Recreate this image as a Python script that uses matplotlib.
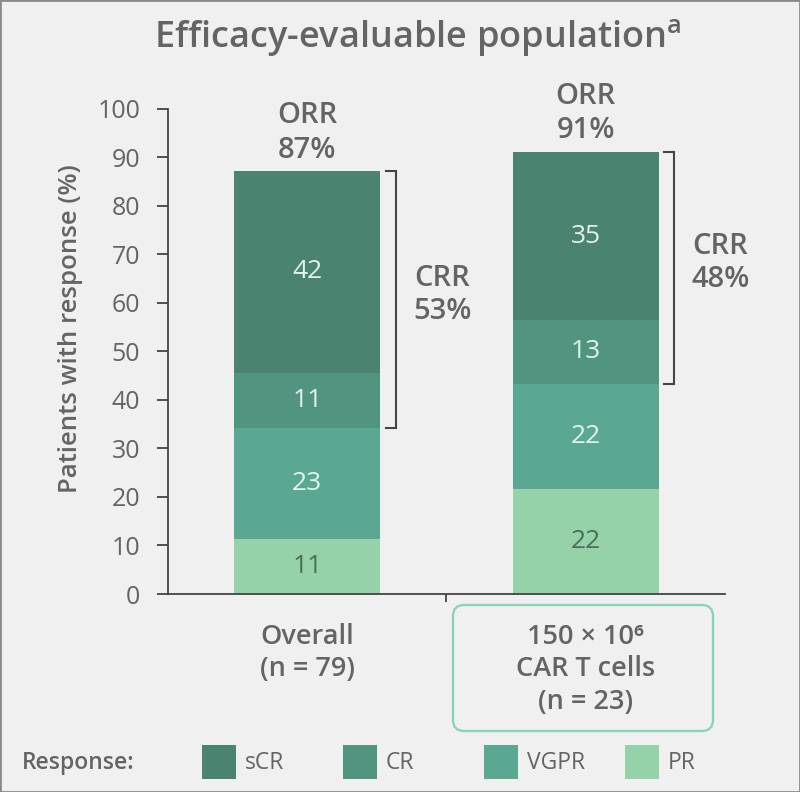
import matplotlib.pyplot as plt
from matplotlib.patches import FancyBboxPatch, Rectangle
import numpy as np

plt.rcParams['font.family'] = ['Open Sans', 'DejaVu Sans']

# Data
groups = ["Overall\n(n = 79)", "150 × 10⁶\nCAR T cells\n(n = 23)"]
pr = [11.4, 21.7]
vgpr = [22.8, 21.7]
cr = [11.4, 13.0]
scr = [41.6, 34.8]
pr_lbl = [11, 22]
vgpr_lbl = [23, 22]
cr_lbl = [11, 13]
scr_lbl = [42, 35]
orr = [87, 91]
crr = [53, 48]
legend_names = ["sCR", "CR", "VGPR", "PR"]

colors = {"sCR": "#4a8370", "CR": "#519581", "VGPR": "#5aa891", "PR": "#95d1a9"}
txt_gray = "#646464"
bg = "#f0f0f0"

fig = plt.figure(figsize=(8, 7.92), dpi=100, facecolor=bg)
ax = fig.add_axes([0.21, 0.25, 0.696, 0.6124])
ax.set_facecolor(bg)

x = np.arange(len(groups))
width = 0.525
bottom = np.zeros(len(groups))
series = [("PR", pr, pr_lbl), ("VGPR", vgpr, vgpr_lbl), ("CR", cr, cr_lbl), ("sCR", scr, scr_lbl)]
for name, vals, lbls in series:
    vals = np.array(vals)
    ax.bar(x, vals, width, bottom=bottom, color=colors[name], edgecolor='none')
    tc = "#4c6d57" if name == "PR" else "#e2f5ec"
    for xi, b, v, l in zip(x, bottom, vals, lbls):
        ax.text(xi, b + v / 2, str(l), ha='center', va='center', fontsize=19, color=tc)
    bottom += vals

# ORR labels above bars
for xi, tot, o in zip(x, bottom, orr):
    ax.text(xi, tot + 1.3, f"ORR\n{o}%", ha='center', va='bottom', fontsize=21,
            color=txt_gray, fontweight='semibold', linespacing=1.25, clip_on=False)

# CRR brackets: from top of VGPR to top of bar
base = np.array(pr) + np.array(vgpr)
for xi, lo, hi, c in zip(x, base, bottom, crr):
    bx0 = xi + width / 2 + 0.02
    bx1 = bx0 + 0.035
    ax.plot([bx0, bx1, bx1, bx0], [hi, hi, lo, lo], color="#444444", lw=1.5,
            clip_on=False, solid_joinstyle='miter')
    ax.text(xi + 0.485, (lo + hi) / 2 + 1.0, f"CRR\n{c}%", ha='center', va='center',
            fontsize=21, color=txt_gray, fontweight='semibold', linespacing=1.2)

ax.set_xlim(-0.5, 1.5)
ax.set_ylim(0, 100)
ax.set_yticks(range(0, 101, 10))
ax.set_xticks([0.5])
ax.set_xticklabels([])
ax.tick_params(axis='y', length=8, width=1.3, color="#444444", labelsize=18,
               labelcolor=txt_gray, pad=12)
ax.tick_params(axis='x', length=6, width=1.3, color="#444444")
for s in ['top', 'right']:
    ax.spines[s].set_visible(False)
for s in ['left', 'bottom']:
    ax.spines[s].set_color("#444444")
    ax.spines[s].set_linewidth(1.3)

ax.set_ylabel("Patients with response (%)", fontsize=18.5, color=txt_gray,
              fontweight='semibold')
ax.yaxis.set_label_coords(-0.153, 0.548)

# group labels below axis
for xi, g in zip(x, groups):
    ax.text(xi, -5.9, g, ha='center', va='top', fontsize=19.5, color=txt_gray,
            fontweight='semibold', linespacing=1.22, clip_on=False)

# rounded box around the second group label
box = FancyBboxPatch((453 / 800, 1 - 731 / 792), 260 / 800, 126 / 792,
                     boxstyle="round,pad=0,rounding_size=0.014",
                     transform=fig.transFigure, facecolor='none',
                     edgecolor="#86d3b6", lw=1.6)
fig.patches.append(box)

fig.text(0.522, 0.953, "Efficacy-evaluable population$^{\\mathregular{a}}$", ha='center',
         va='center', fontsize=26, color=txt_gray, fontweight='semibold')

# legend row
fig.text(22 / 800, 1 - 763 / 792, "Response:", ha='left', va='center', fontsize=16.5,
         color=txt_gray, fontweight='semibold')
leg_x = [202, 343, 484, 625]
for name, lx in zip(legend_names, leg_x):
    fig.patches.append(Rectangle((lx / 800, 1 - 779 / 792), 34 / 800, 34 / 792,
                                 transform=fig.transFigure, facecolor=colors[name],
                                 edgecolor='none'))
    fig.text((lx + 43) / 800, 1 - 763 / 792, name, ha='left', va='center',
             fontsize=16.5, color=txt_gray)

# thin frame round the picture
fig.patches.append(Rectangle((0, 0), 1, 1, transform=fig.transFigure,
                             facecolor='none', edgecolor="#8a8a8a", lw=2))

fig.savefig("out.png", dpi=100, facecolor=bg)
